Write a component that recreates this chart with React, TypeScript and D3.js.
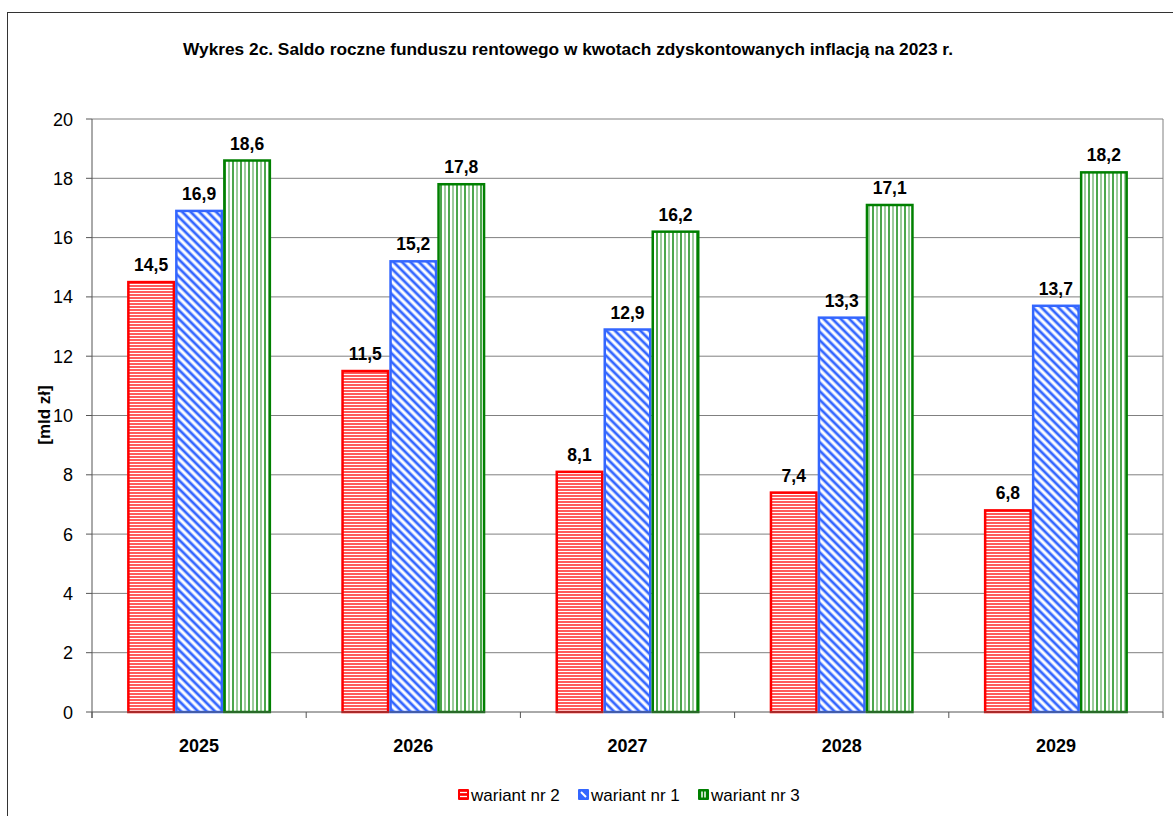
import React from "react";
import * as d3 from "d3";

const years = ["2025", "2026", "2027", "2028", "2029"];
const seriesNames = ["wariant nr 2", "wariant nr 1", "wariant nr 3"];
const wariant2 = [14.5, 11.5, 8.1, 7.4, 6.8];
const wariant1 = [16.9, 15.2, 12.9, 13.3, 13.7];
const wariant3 = [18.6, 17.8, 16.2, 17.1, 18.2];
const yTicks = [0, 2, 4, 6, 8, 10, 12, 14, 16, 18, 20];
const colors = ["#ff0000", "#3366ff", "#008000"];
const patternIds = ["pat-h", "pat-d", "pat-v"];

export default function App() {
  const W = 1173, H = 816;
  const left = 92, right = 1163, top = 119, bottom = 712;
  const x = d3.scaleBand().domain(years).range([left, right]).paddingInner(0).paddingOuter(0);
  const y = d3.scaleLinear().domain([0, 20]).range([bottom, top]);
  const series = [wariant2, wariant1, wariant3];
  const groupW = 144;
  const inner = d3.scaleBand().domain(["0", "1", "2"]).range([0, groupW]).padding(0);
  const font = "'Liberation Sans', Arial, sans-serif";
  const fmt = (v: number) => v.toFixed(1).replace(".", ",");

  return (
    <svg width={W} height={H} style={{ position: "absolute", left: 0, top: 0, background: "#fff" }}>
      <defs>
        <pattern id="pat-h" patternUnits="userSpaceOnUse" width="6" height="3">
          <rect width="6" height="3" fill="#fff" />
          <line x1="0" y1="1" x2="6" y2="1" stroke="#ff0000" strokeWidth="1.3" />
        </pattern>
        <pattern id="pat-d" patternUnits="userSpaceOnUse" width="6" height="6" patternTransform="rotate(-45)">
          <rect width="6" height="6" fill="#fff" />
          <line x1="3" y1="0" x2="3" y2="6" stroke="#3366ff" strokeWidth="2.8" />
        </pattern>
        <pattern id="pat-v" patternUnits="userSpaceOnUse" width="8" height="6">
          <rect width="8" height="6" fill="#fff" />
          <line x1="1" y1="0" x2="1" y2="6" stroke="#008000" strokeWidth="1.4" />
          <line x1="5" y1="0" x2="5" y2="6" stroke="#3a9a3a" strokeWidth="1" />
        </pattern>
      </defs>

      <rect x={7.5} y={12.5} width={1170} height={810} fill="none" stroke="#333" strokeWidth={1} />

      <text x={568} y={55} textAnchor="middle" fontFamily={font} fontWeight="bold" fontSize={17.3} fill="#000">
        Wykres 2c. Saldo roczne funduszu rentowego w kwotach zdyskontowanych inflacją na 2023 r.
      </text>

      {yTicks.map((t) => (
        <g key={t}>
          {t > 0 && <line x1={left} x2={right} y1={y(t)} y2={y(t)} stroke="#808080" strokeWidth={1} />}
          <line x1={left - 6} x2={left} y1={y(t)} y2={y(t)} stroke="#555" strokeWidth={1} />
          <text x={left - 19} y={y(t) + 6.5} textAnchor="end" fontFamily={font} fontSize={18} fill="#000">
            {t}
          </text>
        </g>
      ))}
      <line x1={right} x2={right} y1={top} y2={bottom} stroke="#808080" />

      {years.map((yr, i) =>
        series.map((s, k) => {
          const x0 = (x(yr) as number) + (x.bandwidth() - groupW) / 2 + (inner(String(k)) as number);
          const w = inner.bandwidth();
          return (
            <rect
              key={yr + k}
              x={x0 + 1.25}
              y={y(s[i])}
              width={w - 2.5}
              height={bottom - y(s[i])}
              fill={`url(#${patternIds[k]})`}
              stroke={colors[k]}
              strokeWidth={2.5}
            />
          );
        })
      )}

      {years.map((yr, i) =>
        series.map((s, k) => {
          const xc = (x(yr) as number) + (x.bandwidth() - groupW) / 2 + (inner(String(k)) as number) + inner.bandwidth() / 2;
          return (
            <text key={"l" + yr + k} x={xc} y={y(s[i]) - 11} textAnchor="middle" fontFamily={font} fontWeight="bold" fontSize={17.5} fill="#000">
              {fmt(s[i])}
            </text>
          );
        })
      )}

      <line x1={left} x2={right} y1={bottom} y2={bottom} stroke="#555" strokeWidth={1} />
      <line x1={left} x2={left} y1={top} y2={bottom + 6} stroke="#555" strokeWidth={1} />
      {[...years.map((yr) => x(yr) as number), right].map((xv, i) => (
        <line key={"t" + i} x1={xv} x2={xv} y1={bottom} y2={bottom + 6} stroke="#555" />
      ))}
      {years.map((yr) => (
        <text key={"x" + yr} x={(x(yr) as number) + x.bandwidth() / 2} y={752} textAnchor="middle" fontFamily={font} fontWeight="bold" fontSize={18} fill="#000">
          {yr}
        </text>
      ))}

      <text transform={`translate(50,415) rotate(-90)`} textAnchor="middle" fontFamily={font} fontWeight="bold" fontSize={17} fill="#000">
        [mld zł]
      </text>

      {seriesNames.map((n, k) => {
        const lx = [458, 578, 698][k];
        return (
          <g key={n}>
            <rect x={lx} y={789} width={11} height={11} fill={colors[k]} rx={1} />
            {k === 0 && (
              <>
                <line x1={lx + 2} x2={lx + 9} y1={792.5} y2={792.5} stroke="#fff" strokeWidth={1.3} />
                <line x1={lx + 2} x2={lx + 9} y1={796.5} y2={796.5} stroke="#fff" strokeWidth={1.3} />
              </>
            )}
            {k === 1 && <line x1={lx + 3} x2={lx + 8} y1={792} y2={797} stroke="#fff" strokeWidth={2} />}
            {k === 2 && (
              <>
                <line x1={lx + 4} x2={lx + 4} y1={791.5} y2={797.5} stroke="#fff" strokeWidth={1.5} />
                <line x1={lx + 7} x2={lx + 7} y1={791.5} y2={797.5} stroke="#fff" strokeWidth={1.5} />
              </>
            )}
            <text x={lx + 13} y={801} fontFamily={font} fontSize={17} fill="#000">
              {n}
            </text>
          </g>
        );
      })}
    </svg>
  );
}
